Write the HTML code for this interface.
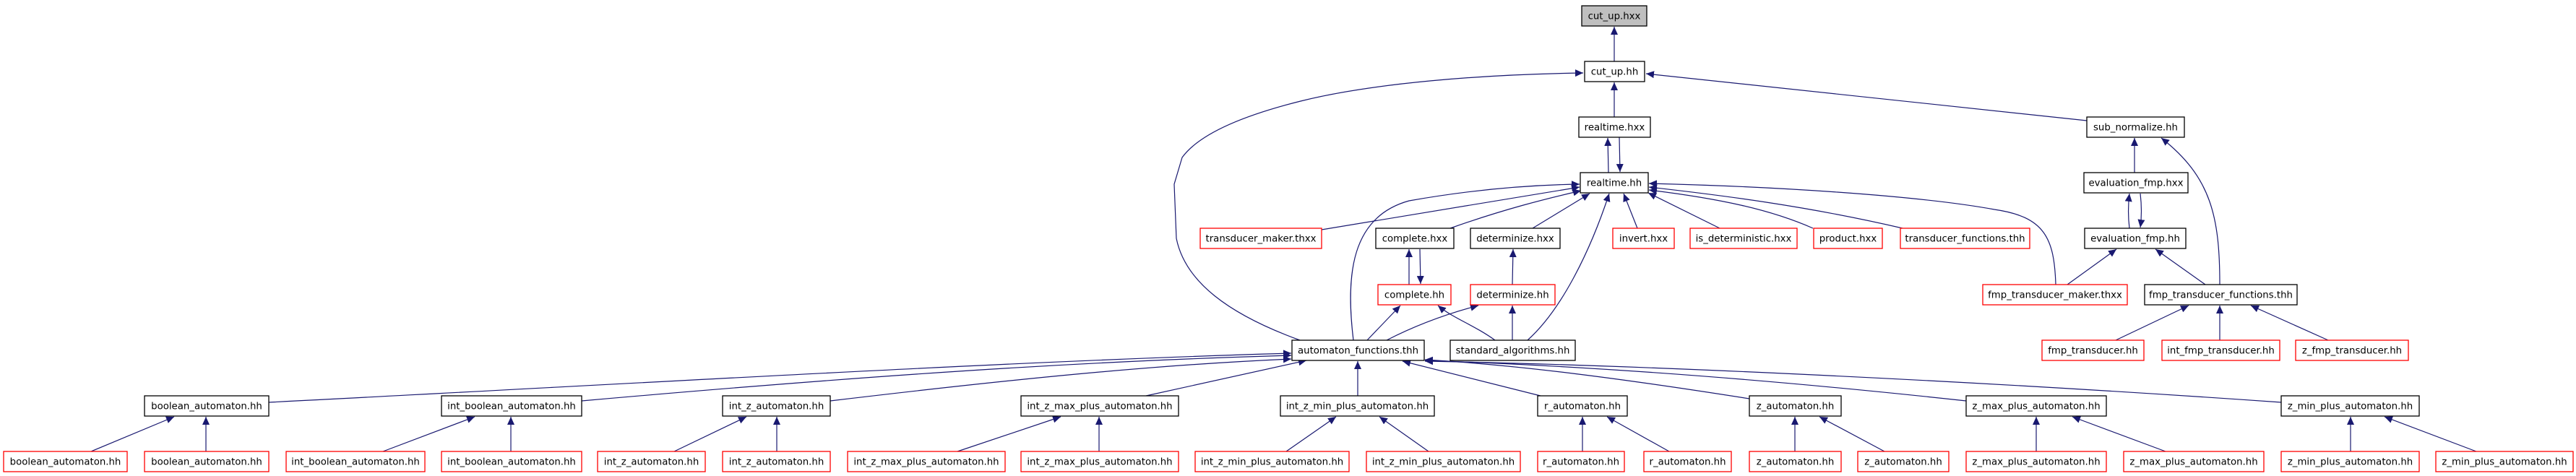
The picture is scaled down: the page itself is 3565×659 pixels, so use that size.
<!DOCTYPE html>
<html><head><meta charset="utf-8"><style>
html,body{margin:0;padding:0;background:#fff;width:3565px;height:659px;overflow:hidden}
svg text{font-family:"DejaVu Sans","Liberation Sans",sans-serif;font-size:13.3px;fill:#000;text-anchor:middle}
.b{fill:#fff;stroke:#000;stroke-width:1.3}
.r{fill:#fff;stroke:#f00;stroke-width:1.3}
.e{fill:none;stroke:#191970;stroke-width:1.2;marker-end:url(#a)}
</style></head><body>
<svg width="3565" height="659" viewBox="0 0 3565 659" xmlns="http://www.w3.org/2000/svg">
<defs><marker id="a" markerUnits="userSpaceOnUse" markerWidth="12" markerHeight="10" refX="11" refY="5" orient="auto"><path d="M0,0 L11,5 L0,10 z" fill="#191970"/></marker></defs>

<!-- edges -->
<g>
<path class="e" d="M2234,85 L2234,37"/>
<path class="e" d="M2234,162 L2234,114"/>
<path class="e" d="M1799,471 C1700,435 1640,390 1628,330 L1625,255 L1636,218 C1660,185 1720,160 1800,140 C1900,115 2050,103 2191,101"/>
<path class="e" d="M2888,167 L2278,102"/>
<path class="e" d="M2226,239 L2225,191"/>
<path class="e" d="M2241,190 L2242,238"/>
<path class="e" d="M1829,318 L2186,259"/>
<path class="e" d="M2007,316 C2080,290 2140,275 2188,264"/>
<path class="e" d="M2121,316 L2200,268"/>
<path class="e" d="M2266,316 L2247,268"/>
<path class="e" d="M2380,316 L2281,267"/>
<path class="e" d="M2509,316 C2450,290 2380,275 2282,263"/>
<path class="e" d="M2633,316 C2500,285 2380,270 2282,259"/>
<path class="e" d="M2845,394 C2843,330 2830,300 2760,290 C2650,270 2450,258 2282,254"/>
<path class="e" d="M1873,471 C1862,380 1870,300 1950,278 C2040,262 2120,256 2186,255"/>
<path class="e" d="M2114,471 C2160,430 2200,350 2227,268"/>
<path class="e" d="M1950,394 L1950,345"/>
<path class="e" d="M1965,345 L1966,393"/>
<path class="e" d="M2093,394 L2094,345"/>
<path class="e" d="M1892,471 L1938,423"/>
<path class="e" d="M1919,471 C1960,450 2000,435 2046,423"/>
<path class="e" d="M2069,471 C2040,450 2010,440 1990,423"/>
<path class="e" d="M2093,471 L2093,423"/>
<path class="e" d="M2954,239 L2954,191"/>
<path class="e" d="M2947,316 C2945,300 2945,285 2947,268"/>
<path class="e" d="M2962,268 C2964,285 2964,300 2962,315"/>
<path class="e" d="M2861,394 L2929,345"/>
<path class="e" d="M3052,394 L2983,345"/>
<path class="e" d="M3072,394 C3072,300 3060,245 2991,191"/>
<path class="e" d="M2928,471 L3029,423"/>
<path class="e" d="M3072,471 L3072,423"/>
<path class="e" d="M3222,471 L3115,423"/>
<!-- row7 -> automaton_functions -->
<path class="e" d="M372,557 C900,530 1400,500 1787,489"/>
<path class="e" d="M805,555 C1200,520 1500,500 1787,492"/>
<path class="e" d="M1149,555 C1400,525 1600,505 1787,497"/>
<path class="e" d="M1586,548 L1808,499"/>
<path class="e" d="M1879,548 L1879,500"/>
<path class="e" d="M2132,548 L1941,500"/>
<path class="e" d="M2421,552 C2250,525 2100,505 1972,498"/>
<path class="e" d="M2721,555 C2400,520 2150,505 1972,499"/>
<path class="e" d="M3157,557 C2700,525 2250,505 1972,500"/>
<!-- row8 -> row7 -->
<path class="e" d="M126,625 L241,577"/>
<path class="e" d="M285,625 L285,577"/>
<path class="e" d="M530,625 L657,577"/>
<path class="e" d="M707,625 L707,577"/>
<path class="e" d="M933,625 L1033,577"/>
<path class="e" d="M1075,625 L1075,577"/>
<path class="e" d="M1325,625 L1468,577"/>
<path class="e" d="M1521,625 L1521,577"/>
<path class="e" d="M1780,625 L1849,577"/>
<path class="e" d="M1977,625 L1909,577"/>
<path class="e" d="M2190,625 L2190,577"/>
<path class="e" d="M2310,625 L2224,577"/>
<path class="e" d="M2484,625 L2484,577"/>
<path class="e" d="M2608,625 L2518,577"/>
<path class="e" d="M2818,625 L2818,577"/>
<path class="e" d="M2997,625 L2868,577"/>
<path class="e" d="M3253,625 L3253,577"/>
<path class="e" d="M3427,625 L3300,577"/>
</g>

<!-- nodes -->
<g>
<rect x="2189" y="8" width="90" height="28" fill="#bfbfbf" stroke="#000" stroke-width="1.3"/><text x="2234" y="26.5">cut_up.hxx</text>
<rect class="b" x="2193" y="85" width="83" height="28"/><text x="2234.5" y="103.5">cut_up.hh</text>
<rect class="b" x="2185" y="162" width="99" height="28"/><text x="2234.5" y="180.5">realtime.hxx</text>
<rect class="b" x="2888" y="162" width="135" height="28"/><text x="2955.5" y="180.5">sub_normalize.hh</text>
<rect class="b" x="2187" y="239" width="94" height="28"/><text x="2234" y="257.5">realtime.hh</text>
<rect class="b" x="2884" y="239" width="144" height="28"/><text x="2956" y="257.5">evaluation_fmp.hxx</text>

<rect class="r" x="1661" y="316" width="168" height="28"/><text x="1745" y="334.5">transducer_maker.thxx</text>
<rect class="b" x="1904" y="316" width="108" height="28"/><text x="1958" y="334.5">complete.hxx</text>
<rect class="b" x="2035" y="316" width="124" height="28"/><text x="2097" y="334.5">determinize.hxx</text>
<rect class="r" x="2232" y="316" width="85" height="28"/><text x="2274.5" y="334.5">invert.hxx</text>
<rect class="r" x="2339" y="316" width="148" height="28"/><text x="2413" y="334.5">is_deterministic.hxx</text>
<rect class="r" x="2510" y="316" width="95" height="28"/><text x="2557.5" y="334.5">product.hxx</text>
<rect class="r" x="2630" y="316" width="179" height="28"/><text x="2719.5" y="334.5">transducer_functions.thh</text>
<rect class="b" x="2885" y="316" width="140" height="28"/><text x="2955" y="334.5">evaluation_fmp.hh</text>

<rect class="r" x="1907" y="394" width="101" height="28"/><text x="1957.5" y="412.5">complete.hh</text>
<rect class="r" x="2035" y="394" width="117" height="28"/><text x="2093.5" y="412.5">determinize.hh</text>
<rect class="r" x="2744" y="394" width="200" height="28"/><text x="2844" y="412.5">fmp_transducer_maker.thxx</text>
<rect class="b" x="2968" y="394" width="211" height="28"/><text x="3073.5" y="412.5">fmp_transducer_functions.thh</text>

<rect class="b" x="1788" y="471" width="183" height="28"/><text x="1879.5" y="489.5">automaton_functions.thh</text>
<rect class="b" x="2007" y="471" width="173" height="28"/><text x="2093.5" y="489.5">standard_algorithms.hh</text>
<rect class="r" x="2826" y="471" width="141" height="28"/><text x="2896.5" y="489.5">fmp_transducer.hh</text>
<rect class="r" x="2992" y="471" width="163" height="28"/><text x="3073.5" y="489.5">int_fmp_transducer.hh</text>
<rect class="r" x="3177" y="471" width="156" height="28"/><text x="3255" y="489.5">z_fmp_transducer.hh</text>

<rect class="b" x="200" y="548" width="172" height="28"/><text x="286" y="566.5">boolean_automaton.hh</text>
<rect class="b" x="611" y="548" width="194" height="28"/><text x="708" y="566.5">int_boolean_automaton.hh</text>
<rect class="b" x="1000" y="548" width="149" height="28"/><text x="1074.5" y="566.5">int_z_automaton.hh</text>
<rect class="b" x="1413" y="548" width="218" height="28"/><text x="1522" y="566.5">int_z_max_plus_automaton.hh</text>
<rect class="b" x="1772" y="548" width="213" height="28"/><text x="1878.5" y="566.5">int_z_min_plus_automaton.hh</text>
<rect class="b" x="2128" y="548" width="124" height="28"/><text x="2190" y="566.5">r_automaton.hh</text>
<rect class="b" x="2421" y="548" width="127" height="28"/><text x="2484.5" y="566.5">z_automaton.hh</text>
<rect class="b" x="2721" y="548" width="194" height="28"/><text x="2818" y="566.5">z_max_plus_automaton.hh</text>
<rect class="b" x="3157" y="548" width="191" height="28"/><text x="3252.5" y="566.5">z_min_plus_automaton.hh</text>

<rect class="r" x="5" y="625" width="171" height="28"/><text x="90.5" y="643.5">boolean_automaton.hh</text>
<rect class="r" x="200" y="625" width="172" height="28"/><text x="286" y="643.5">boolean_automaton.hh</text>
<rect class="r" x="396" y="625" width="192" height="28"/><text x="492" y="643.5">int_boolean_automaton.hh</text>
<rect class="r" x="611" y="625" width="194" height="28"/><text x="708" y="643.5">int_boolean_automaton.hh</text>
<rect class="r" x="827" y="625" width="149" height="28"/><text x="901.5" y="643.5">int_z_automaton.hh</text>
<rect class="r" x="1000" y="625" width="149" height="28"/><text x="1074.5" y="643.5">int_z_automaton.hh</text>
<rect class="r" x="1173" y="625" width="218" height="28"/><text x="1282" y="643.5">int_z_max_plus_automaton.hh</text>
<rect class="r" x="1413" y="625" width="218" height="28"/><text x="1522" y="643.5">int_z_max_plus_automaton.hh</text>
<rect class="r" x="1654" y="625" width="213" height="28"/><text x="1760.5" y="643.5">int_z_min_plus_automaton.hh</text>
<rect class="r" x="1891" y="625" width="213" height="28"/><text x="1997.5" y="643.5">int_z_min_plus_automaton.hh</text>
<rect class="r" x="2128" y="625" width="120" height="28"/><text x="2188" y="643.5">r_automaton.hh</text>
<rect class="r" x="2275" y="625" width="121" height="28"/><text x="2335.5" y="643.5">r_automaton.hh</text>
<rect class="r" x="2421" y="625" width="127" height="28"/><text x="2484.5" y="643.5">z_automaton.hh</text>
<rect class="r" x="2571" y="625" width="126" height="28"/><text x="2634" y="643.5">z_automaton.hh</text>
<rect class="r" x="2721" y="625" width="194" height="28"/><text x="2818" y="643.5">z_max_plus_automaton.hh</text>
<rect class="r" x="2939" y="625" width="194" height="28"/><text x="3036" y="643.5">z_max_plus_automaton.hh</text>
<rect class="r" x="3157" y="625" width="191" height="28"/><text x="3252.5" y="643.5">z_min_plus_automaton.hh</text>
<rect class="r" x="3371" y="625" width="190" height="28"/><text x="3466" y="643.5">z_min_plus_automaton.hh</text>
</g>
</svg>
</body></html>
